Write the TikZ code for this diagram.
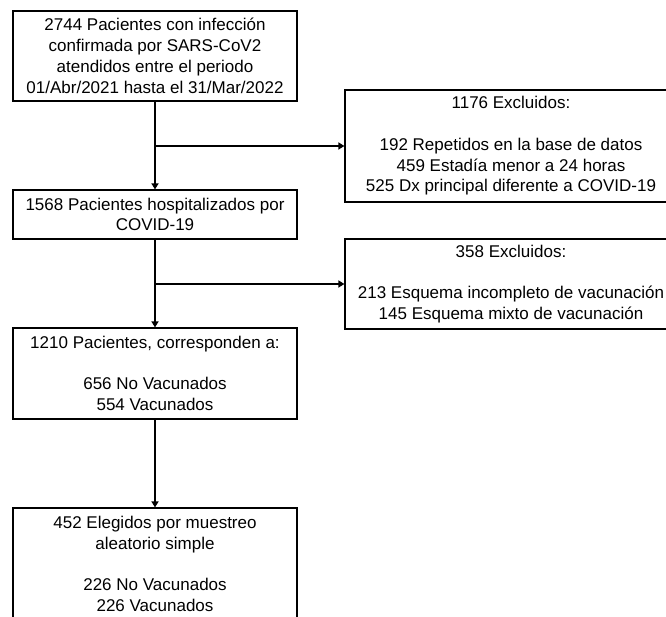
\documentclass[tikz,border=0pt]{standalone}
\usepackage{fontspec}
\setmainfont{Liberation Sans}
\usetikzlibrary{arrows.meta}

\begin{document}
\begin{tikzpicture}[x=1pt,y=1pt]
			\useasboundingbox (0,0) rectangle (666,-617);
			\clip (0,0) rectangle (666,-617);
			\begin{scope}[every node/.style={draw,line width=1.2pt,align=center,inner sep=0pt,font=\fontsize{17}{20.8}\selectfont}]
				\node[minimum width=284pt,minimum height=90pt] (total) at (155,-56) {2744 Pacientes con infección\\confirmada por SARS-CoV2\\atendidos entre el periodo\\01/Abr/2021 hasta el 31/Mar/2022};
				\node[minimum width=332pt,minimum height=112pt] (excl1) at (511,-146) {1176 Excluidos:\\[20.8pt]192 Repetidos en la base de datos\\459 Estadía menor a 24 horas\\525 Dx principal diferente a COVID-19};
				\node[minimum width=284pt,minimum height=49pt] (hosp) at (155,-214.5) {1568 Pacientes hospitalizados por\\COVID-19};
				\node[minimum width=332pt,minimum height=90pt] (excl2) at (511,-284) {358 Excluidos:\\[20.8pt]213 Esquema incompleto de vacunación\\145 Esquema mixto de vacunación};
				\node[minimum width=284pt,minimum height=91pt] (pac) at (155,-373.5) {1210 Pacientes, corresponden a:\\[20.8pt]656 No Vacunados\\554 Vacunados};
				\node[minimum width=284pt,minimum height=112pt] (muestra) at (155,-564) {452 Elegidos por muestreo\\aleatorio simple\\[20.8pt]226 No Vacunados\\226 Vacunados};
			\end{scope}
			
			\begin{scope}[line width=1.8pt,-{Triangle[length=6pt,width=7pt]}]
				\path (total) edge (hosp);
				\path (total.south |- excl1.west) edge (excl1.west);
				\path (hosp) edge (pac);
				\path (hosp.south |- excl2.west) edge (excl2.west);
				\path (pac) edge (muestra);
			\end{scope}
		\end{tikzpicture}
\end{document}
